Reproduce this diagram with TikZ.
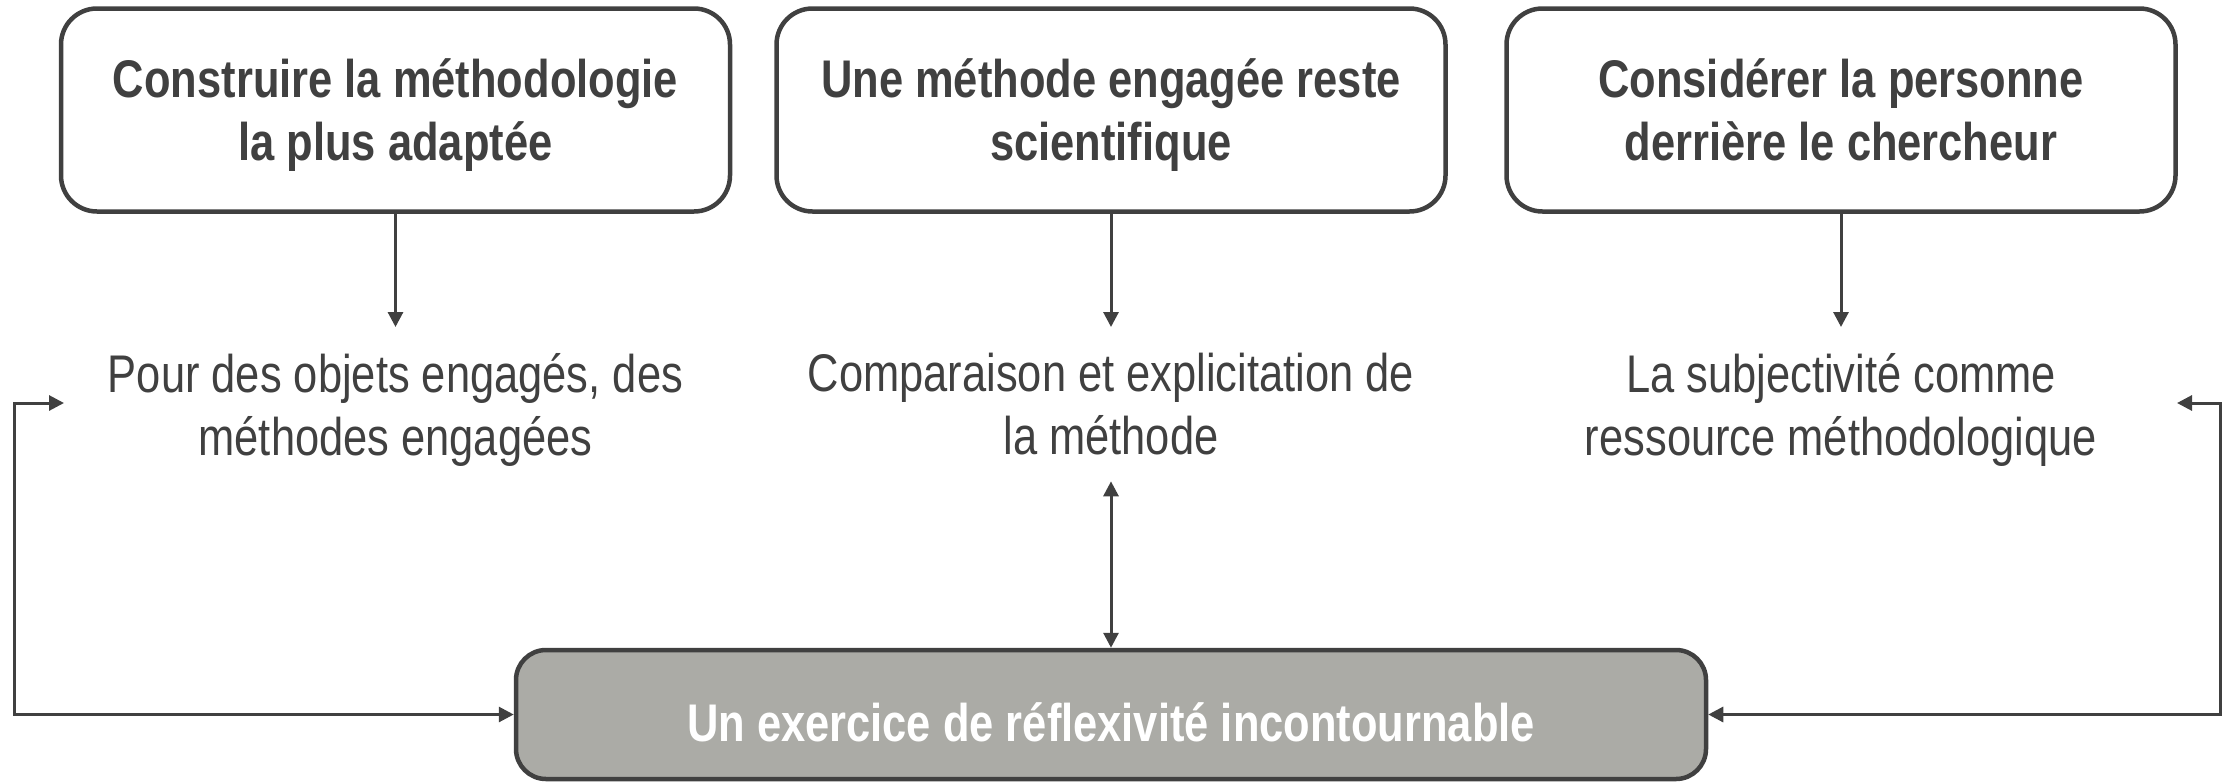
\documentclass[tikz,border=0pt]{standalone}
\usepackage{fontspec}
\setmainfont{Liberation Sans}[FakeStretch=0.82]
\usetikzlibrary{arrows.meta}
\definecolor{dg}{HTML}{404040}
\definecolor{boxfill}{HTML}{ABABA6}
\tikzset{
  topbox/.style={draw=dg, line width=4.5pt, rounded corners=36pt, fill=white,
    minimum width=669pt, minimum height=203pt, align=center, text=dg, text depth=0pt,
    font=\fontsize{53}{63}\selectfont\bfseries},
  bottombox/.style={draw=dg, line width=4.5pt, rounded corners=30pt, fill=boxfill,
    minimum width=1190pt, minimum height=129pt, align=center, text=white,
    text height=53pt, text depth=0pt,
    font=\fontsize{53}{63}\selectfont\bfseries},
  plain/.style={align=center, text=dg, inner xsep=0pt, inner ysep=26pt,
    font=\fontsize{53}{63}\selectfont},
  conn/.style={draw=dg, line width=3pt, -{Triangle[length=15pt,width=15pt]}},
  dconn/.style={draw=dg, line width=3pt, {Triangle[length=15pt,width=15pt]}-{Triangle[length=15pt,width=15pt]}}
}
\begin{document}
\begin{tikzpicture}[x=1pt,y=-1pt]
\useasboundingbox (0,0) rectangle (2231,782);
\node[topbox] (b1) at (395.5,110) {Construire la méthodologie\\la plus adaptée};
\node[topbox] (b2) at (1111,110) {Une méthode engagée reste\\scientifique};
\node[topbox] (b3) at (1841,110) {Considérer la personne\\derrière le chercheur};
\node[plain, anchor=north] (t1) at (395.5,327) {Pour des objets engagés, des\\méthodes engagées};
\node[plain, anchor=north] (t2) at (1111,327) {Comparaison et explicitation de\\la méthode};
\node[plain, anchor=north] (t3) at (1841,327) {La subjectivité comme\\ressource méthodologique};
\node[bottombox] (bb) at (1111,714.5) {Un exercice de réflexivité incontournable};
\coordinate (lt) at (64,403);
\coordinate (lc) at (14,403);
\coordinate (rt) at (2177,403);
\coordinate (rc) at (2220,403);
\draw[conn] (b1.south) -- (t1.north);
\draw[conn] (b2.south) -- (t2.north);
\draw[conn] (b3.south) -- (t3.north);
\draw[dconn] (t2.south) -- (bb.north);
\draw[dconn] (lt) -- (lc) |- (bb.west);
\draw[dconn] (rt) -- (rc) |- (bb.east);
\end{tikzpicture}
\end{document}
